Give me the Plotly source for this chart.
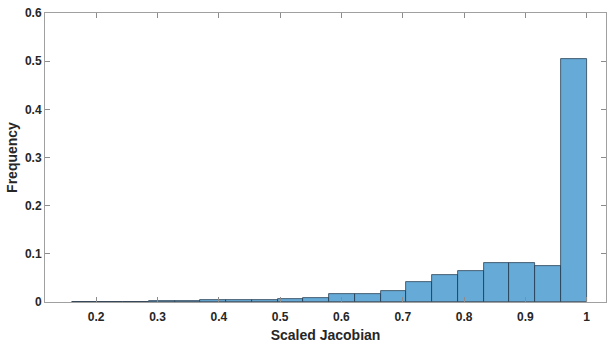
import plotly.graph_objects as go

bin_edges_start = 0.16
bin_width = 0.042
bin_centers = [round(bin_edges_start + bin_width * (i + 0.5), 4) for i in range(20)]
frequencies = [0.0006, 0.0, 0.0006, 0.0012, 0.0018, 0.0035, 0.0035, 0.0035, 0.006, 0.0085,
               0.0166, 0.0166, 0.0228, 0.0415, 0.056, 0.065, 0.081, 0.081, 0.075, 0.505]
x_ticks = [0.2, 0.3, 0.4, 0.5, 0.6, 0.7, 0.8, 0.9, 1]
x_tick_text = ["0.2", "0.3", "0.4", "0.5", "0.6", "0.7", "0.8", "0.9", "1"]
y_ticks = [0, 0.1, 0.2, 0.3, 0.4, 0.5, 0.6]
y_tick_text = ["0", "0.1", "0.2", "0.3", "0.4", "0.5", "0.6"]

fig = go.Figure()
fig.add_trace(go.Bar(
    x=bin_centers, y=frequencies, width=[bin_width] * len(bin_centers),
    marker=dict(color="rgb(102,170,215)", line=dict(color="rgba(20,40,60,0.85)", width=0.8)),
    showlegend=False,
))

axis_common = dict(
    showline=True, linecolor="rgb(160,160,160)", linewidth=1, mirror="ticks",
    ticks="inside", ticklen=5, tickcolor="rgb(140,140,140)", showgrid=False, zeroline=False,
    tickfont=dict(family="Liberation Sans, Arial", size=12, color="rgb(38,38,38)", weight="bold"),
)
fig.update_xaxes(range=[0.1165, 1.0315], tickvals=x_ticks, ticktext=x_tick_text, ticklabelstandoff=4,
                 title=dict(text="<b>Scaled Jacobian</b>", font=dict(family="Liberation Sans, Arial", size=14, color="rgb(38,38,38)"), standoff=6),
                 **axis_common)
fig.update_yaxes(range=[0, 0.6], tickvals=y_ticks, ticktext=y_tick_text,
                 title=dict(text="<b>Frequency</b>", font=dict(family="Liberation Sans, Arial", size=14, color="rgb(38,38,38)"), standoff=4),
                 **axis_common)
fig.update_layout(
    width=608, height=345, margin=dict(l=45, r=2, t=13, b=43, autoexpand=False),
    paper_bgcolor="white", plot_bgcolor="white", bargap=0,
    font=dict(family="Liberation Sans, Arial", size=12, color="rgb(38,38,38)"),
)
fig.write_html("out.html", config={"displayModeBar": False},
               post_script="document.body.style.margin='0';document.body.style.overflow='hidden';")
